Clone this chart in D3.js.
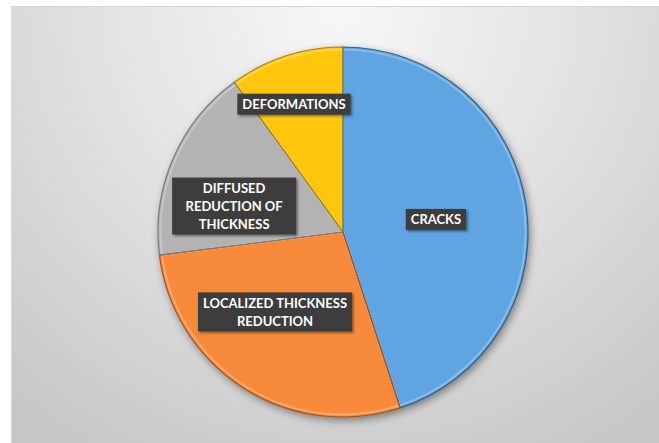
<!DOCTYPE html>
<html>
<head>
<meta charset="utf-8">
<script src="https://cdn.jsdelivr.net/npm/d3@7"></script>
<style>
  html, body { margin: 0; padding: 0; background: #ffffff; }
  svg { display: block; }
</style>
</head>
<body>
<svg id="chart" width="659" height="443"></svg>
<script>
// Share of defect types (percent)
const categories = ["CRACKS", "LOCALIZED THICKNESS REDUCTION", "DIFFUSED REDUCTION OF THICKNESS", "DEFORMATIONS"];
const values = [45, 28, 17, 10];
const labelLines = [
  ["CRACKS"],
  ["LOCALIZED THICKNESS", "REDUCTION"],
  ["DIFFUSED", "REDUCTION OF", "THICKNESS"],
  ["DEFORMATIONS"]
];

const fills = ["#61a4e1", "#f88a3b", "#b3b3b3", "#ffc60a"];
const edges = ["#2f5f8c", "#a8541a", "#7a7a7a", "#a8830a"];

// label placement: fraction of radius and angular shift (degrees) from slice mid-angle
const labelPlace = [
  { k: 0.507, shift: 1.3, minW: 0 },
  { k: 0.567, shift: 8, minW: 154 },
  { k: 0.605, shift: -10, minW: 124 },
  { k: 0.74, shift: -3, minW: 0 }
];

const W = 659, H = 443;
const cx = 343, cy = 232, R = 185;

const svg = d3.select("#chart");
const defs = svg.append("defs");

// background gradient
const bg = defs.append("radialGradient")
  .attr("id", "bgGrad")
  .attr("gradientUnits", "userSpaceOnUse")
  .attr("cx", 340).attr("cy", 10).attr("r", 520);
bg.append("stop").attr("offset", "0%").attr("stop-color", "#f7f7f7");
bg.append("stop").attr("offset", "45%").attr("stop-color", "#e3e3e3");
bg.append("stop").attr("offset", "100%").attr("stop-color", "#c6c6c6");

const shadow = defs.append("filter").attr("id", "pieShadow")
  .attr("x", "-20%").attr("y", "-20%").attr("width", "140%").attr("height", "140%");
shadow.append("feDropShadow")
  .attr("dx", 2).attr("dy", 3).attr("stdDeviation", 4)
  .attr("flood-color", "#000").attr("flood-opacity", 0.45);

const boxShadow = defs.append("filter").attr("id", "boxShadow")
  .attr("x", "-20%").attr("y", "-30%").attr("width", "140%").attr("height", "160%");
boxShadow.append("feDropShadow")
  .attr("dx", 1.5).attr("dy", 1.5).attr("stdDeviation", 1.2)
  .attr("flood-color", "#000").attr("flood-opacity", 0.45);

svg.append("rect")
  .attr("x", 11).attr("y", 6).attr("width", W - 11).attr("height", H - 6)
  .attr("fill", "url(#bgGrad)");
svg.append("line")
  .attr("x1", 11).attr("x2", W).attr("y1", 6.5).attr("y2", 6.5)
  .attr("stroke", "#d4d4d4").attr("stroke-width", 1);
svg.append("line")
  .attr("x1", 11.5).attr("x2", 11.5).attr("y1", 6).attr("y2", H)
  .attr("stroke", "#d8d8d8").attr("stroke-width", 1);

const pie = d3.pie().sort(null).value(d => d);
const arcs = pie(values);
const arc = d3.arc().innerRadius(0).outerRadius(R);

const g = svg.append("g").attr("transform", `translate(${cx},${cy})`);

g.append("g").attr("filter", "url(#pieShadow)")
  .selectAll("path")
  .data(arcs)
  .join("path")
  .attr("d", arc)
  .attr("fill", (d, i) => fills[i]);

// slice outlines and a light bevel along the inside of each edge
g.append("g").selectAll("path")
  .data(arcs)
  .join("path")
  .attr("d", d3.arc().innerRadius(0).outerRadius(R - 2.5))
  .attr("fill", "none")
  .attr("stroke", "#ffffff")
  .attr("stroke-opacity", 0.25)
  .attr("stroke-width", 2);
g.append("g").selectAll("path")
  .data(arcs)
  .join("path")
  .attr("d", arc)
  .attr("fill", "none")
  .attr("stroke", (d, i) => edges[i])
  .attr("stroke-width", 1.2)
  .attr("stroke-linejoin", "round");

// labels
const fontSize = 13, lineH = 18;
arcs.forEach((d, i) => {
  const p = labelPlace[i];
  const mid = (d.startAngle + d.endAngle) / 2 + p.shift * Math.PI / 180;
  const rr = R * p.k;
  const lx = rr * Math.sin(mid), ly = -rr * Math.cos(mid);
  const lg = g.append("g").attr("transform", `translate(${lx},${ly})`);
  const box = lg.append("rect").attr("fill", "#3d3d3d").attr("filter", "url(#boxShadow)");
  const lines = labelLines[i];
  const t = lg.append("text")
    .attr("text-anchor", "middle")
    .attr("font-family", "Lato, 'Open Sans', sans-serif")
    .attr("font-weight", "bold")
    .attr("font-size", fontSize)
    .attr("fill", "#ffffff");
  lines.forEach((s, j) => {
    t.append("tspan")
      .attr("x", 0)
      .attr("y", (j - (lines.length - 1) / 2) * lineH)
      .attr("dy", "0.36em")
      .text(s);
  });
  const tw = d3.max(t.selectAll("tspan").nodes(), n => n.getComputedTextLength());
  const bw = Math.max(tw + 10, p.minW);
  const bh = lines.length * lineH + 3;
  box.attr("x", -bw / 2).attr("y", -bh / 2).attr("width", bw).attr("height", bh);
});
</script>
</body>
</html>
